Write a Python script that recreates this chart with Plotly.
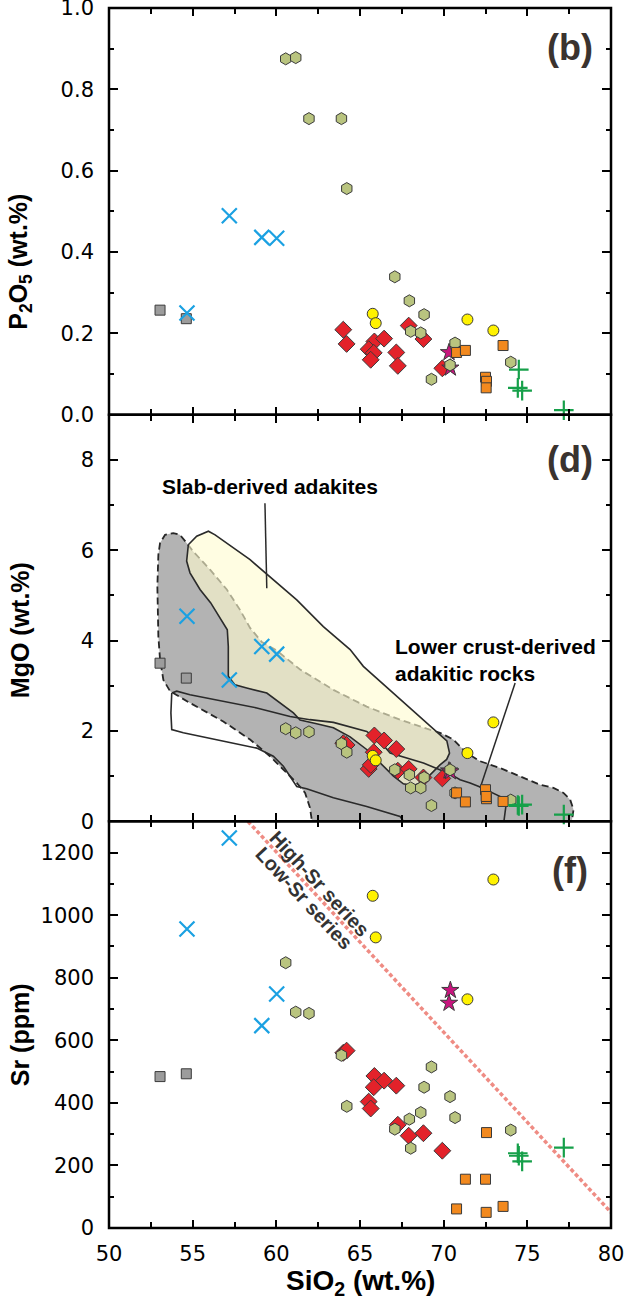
import plotly.graph_objects as go
from plotly.subplots import make_subplots

# ---------------- data ----------------
GRAY_SIO2 = [53.05, 54.62]
GRAY_P2O5 = [0.257, 0.236]
GRAY_MGO = [3.50, 3.17]
GRAY_SR = [484, 493]

BLUE_SIO2 = [54.66, 57.19, 59.13, 60.02]
BLUE_P2O5 = [0.250, 0.489, 0.436, 0.434]
BLUE_MGO = [4.54, 3.13, 3.87, 3.70]
BLUE_SR = [956, 1247, 647, 748]

HEX_SIO2 = [60.56, 61.16, 61.95, 63.89, 64.21, 67.08, 67.95, 68.83, 68.03, 68.63, 70.68, 70.38, 69.27, 74.01]
HEX_P2O5 = [0.875, 0.878, 0.728, 0.728, 0.556, 0.339, 0.280, 0.246, 0.205, 0.201, 0.176, 0.122, 0.087, 0.129]
HEX_MGO = [2.05, 1.96, 1.98, 1.72, 1.53, 1.14, 1.03, 0.97, 0.74, 0.74, 0.63, 1.14, 0.35, 0.47]
HEX_SR = [848, 690, 686, 552, 389, 316, 348, 450, 255, 369, 353, 420, 515, 313]

DIA_SIO2 = [64.0, 64.2, 65.86, 65.52, 65.82, 65.64, 66.44, 67.17, 67.26, 67.91, 68.79, 69.92]
DIA_P2O5 = [0.209, 0.174, 0.180, 0.161, 0.152, 0.135, 0.187, 0.153, 0.120, 0.219, 0.186, 0.114]
DIA_MGO = [1.73, 1.69, 1.90, 1.16, 1.53, 1.25, 1.79, 1.60, 1.12, 1.16, 0.97, 0.95]
DIA_SR = [560, 567, 486, 404, 450, 382, 471, 455, 330, 295, 303, 247]

YEL_SIO2 = [65.76, 65.94, 71.42, 72.97]
YEL_P2O5 = [0.248, 0.225, 0.234, 0.207]
YEL_MGO = [1.45, 1.35, 1.51, 2.19]
YEL_SR = [1062, 929, 731, 1114]

STAR_SIO2 = [70.32, 70.40]
STAR_P2O5 = [0.153, 0.115]
STAR_MGO = [1.12, 1.10]
STAR_SR = [719, 760]

ORA_SIO2 = [70.77, 71.30, 73.55, 72.50, 72.56, 72.54]
ORA_P2O5 = [0.153, 0.158, 0.170, 0.092, 0.082, 0.066]
ORA_MGO = [0.63, 0.43, 0.44, 0.70, 0.50, 0.55]
ORA_SR = [61, 156, 69, 156, 305, 50]

PLUS_SIO2 = [74.49, 74.43, 74.69, 77.18]
PLUS_P2O5 = [0.111, 0.066, 0.059, 0.011]
PLUS_MGO = [0.34, 0.36, 0.37, 0.15]
PLUS_SR = [231, 239, 213, 257]

# field boundaries (SiO2, MgO)
LC_FIELD_SIO2 = [62.13, 77.66, 77.76, 77.56, 77.16, 76.56, 75.76, 74.57, 73.37, 72.18, 71.38, 70.58,
                 69.78, 68.99, 67.39, 65.40, 63.41, 61.42, 60.02, 59.13, 58.43, 57.83, 57.04, 56.04,
                 55.04, 54.64, 54.24, 53.84, 53.35, 53.05, 52.95, 52.89, 52.95, 53.05, 53.25, 53.65,
                 54.84, 56.83, 58.43, 59.62, 60.42, 61.22, 61.72, 62.01, 62.13]
LC_FIELD_MGO = [0.0, 0.0, 0.26, 0.48, 0.63, 0.74, 0.81, 1.00, 1.18, 1.33, 1.51, 1.81,
                1.96, 2.05, 2.25, 2.54, 2.91, 3.36, 3.78, 3.97, 4.28, 4.68, 5.13, 5.57,
                5.97, 6.16, 6.34, 6.38, 6.34, 6.16, 5.90, 5.20, 4.09, 3.58, 3.13, 2.88,
                2.62, 2.21, 1.81, 1.44, 1.14, 0.85, 0.63, 0.30, 0.0]

SLAB_FIELD_SIO2 = [54.74, 55.24, 55.94, 56.34, 58.43, 61.22, 62.81, 64.41, 65.20, 67.20, 69.19, 70.19,
                   70.35, 70.18, 69.78, 69.39, 68.79, 68.19, 67.59, 67.00, 66.20, 65.40, 64.41, 63.41,
                   62.41, 61.42, 61.02, 60.22, 59.43, 58.23, 57.53, 57.13, 57.13, 57.07, 56.57, 56.07,
                   55.44, 54.84, 54.64, 54.74]
SLAB_FIELD_MGO = [6.12, 6.31, 6.42, 6.34, 5.79, 4.90, 4.31, 3.80, 3.43, 2.77, 2.10, 1.78,
                  1.51, 1.37, 1.25, 1.11, 0.88, 0.79, 0.83, 1.00, 1.29, 1.59, 1.87, 2.07,
                  2.16, 2.24, 2.40, 2.62, 2.84, 2.95, 3.02, 3.21, 3.87, 4.24, 4.54, 4.84,
                  5.13, 5.50, 5.76, 6.12]

OUT_FIELD_SIO2 = [53.75, 54.05, 54.84, 56.83, 58.83, 60.82, 62.01, 63.41, 65.40, 66.20, 66.80, 68.79,
                  70.38, 70.98, 71.58, 72.18, 72.77, 73.37, 73.77, 73.60, 67.60, 67.39, 65.40, 63.41,
                  61.81, 61.22, 60.82, 60.42, 59.82, 58.83, 57.43, 55.84, 54.44, 53.75, 53.70, 53.75]
OUT_FIELD_MGO = [2.84, 2.88, 2.80, 2.65, 2.51, 2.32, 2.25, 2.19, 1.99, 1.77, 1.51, 1.29,
                 1.05, 0.92, 0.85, 0.76, 0.66, 0.55, 0.48, 0.0, 0.0, 0.11, 0.33, 0.52,
                 0.72, 0.77, 1.00, 1.22, 1.44, 1.62, 1.73, 1.85, 1.96, 2.03, 2.40, 2.84]

SLAB_PTR_SIO2 = [59.32, 59.43]
SLAB_PTR_MGO = [7.04, 5.16]
LC_PTR_SIO2 = [74.27, 72.18]
LC_PTR_MGO = [3.06, 0.74]

SR_LINE_SIO2 = [58.3, 80.0]
SR_LINE_SR = [1300, 50]

X_RANGE = [50, 80]
X_TICKS = [50, 55, 60, 65, 70, 75, 80]
P2O5_RANGE = [0, 1.0]
MGO_RANGE = [0, 9]
SR_RANGE = [0, 1300]
P2O5_TICKS = [0.0, 0.2, 0.4, 0.6, 0.8, 1.0]
P2O5_TICKTEXT = ["0.0", "0.2", "0.4", "0.6", "0.8", "1.0"]

# ---------------- figure ----------------
fig = make_subplots(rows=3, cols=1, shared_xaxes=True, vertical_spacing=0)

OUTL = dict(color="#3a3a3a", width=1)

fig.add_trace(go.Scatter(x=LC_FIELD_SIO2, y=LC_FIELD_MGO, mode="lines", fill="toself",
                         fillcolor="#b3b3b3", line=dict(color="#262626", width=1.8, dash="7px,4px"),
                         hoverinfo="skip", showlegend=False), row=2, col=1)
fig.add_trace(go.Scatter(x=SLAB_FIELD_SIO2, y=SLAB_FIELD_MGO, mode="lines", fill="toself",
                         fillcolor="rgba(255,251,208,0.62)", line=dict(color="#2a2a2a", width=1.6),
                         hoverinfo="skip", showlegend=False), row=2, col=1)
fig.add_trace(go.Scatter(x=OUT_FIELD_SIO2, y=OUT_FIELD_MGO, mode="lines",
                         line=dict(color="#2a2a2a", width=1.6),
                         hoverinfo="skip", showlegend=False), row=2, col=1)
fig.add_trace(go.Scatter(x=SLAB_PTR_SIO2, y=SLAB_PTR_MGO, mode="lines",
                         line=dict(color="#2a2a2a", width=1.5), hoverinfo="skip", showlegend=False), row=2, col=1)
fig.add_trace(go.Scatter(x=LC_PTR_SIO2, y=LC_PTR_MGO, mode="lines",
                         line=dict(color="#2a2a2a", width=1.5), hoverinfo="skip", showlegend=False), row=2, col=1)

fig.add_trace(go.Scatter(x=SR_LINE_SIO2, y=SR_LINE_SR, mode="lines",
                         line=dict(color="#ef8c84", width=3.5, dash="4px,2.5px"),
                         hoverinfo="skip", showlegend=False), row=3, col=1)

groups = [
    (GRAY_SIO2, [GRAY_P2O5, GRAY_MGO, GRAY_SR], dict(symbol="square", size=10, color="#9c9c9c", line=OUTL)),
    (BLUE_SIO2, [BLUE_P2O5, BLUE_MGO, BLUE_SR], dict(symbol="x-thin", size=15, color="#1ba1e2",
                                                     line=dict(color="#1ba1e2", width=2.2))),
    (DIA_SIO2, [DIA_P2O5, DIA_MGO, DIA_SR], dict(symbol="diamond", size=13, color="#e3222a", line=OUTL)),
    (STAR_SIO2, [STAR_P2O5, STAR_MGO, STAR_SR], dict(symbol="star", size=13, color="#c8157e", line=OUTL)),
    (HEX_SIO2, [HEX_P2O5, HEX_MGO, HEX_SR], dict(symbol="hexagon", size=12, color="#b9c47f", line=OUTL)),
    (ORA_SIO2, [ORA_P2O5, ORA_MGO, ORA_SR], dict(symbol="square", size=10, color="#f2891e", line=OUTL)),
    (YEL_SIO2, [YEL_P2O5, YEL_MGO, YEL_SR], dict(symbol="circle", size=11, color="#fff200", line=OUTL)),
    (PLUS_SIO2, [PLUS_P2O5, PLUS_MGO, PLUS_SR], dict(symbol="cross-thin", size=14, color="#16a04a",
                                                     line=dict(color="#16a04a", width=2.2))),
]
for xs, ys_list, mk in groups:
    for r, ys in enumerate(ys_list, start=1):
        fig.add_trace(go.Scatter(x=xs, y=ys, mode="markers", marker=mk, cliponaxis=False,
                                 hoverinfo="skip", showlegend=False), row=r, col=1)

TICKFONT = dict(family="DejaVu Sans", size=21, color="black")
fig.update_xaxes(range=X_RANGE, tickmode="array", tickvals=X_TICKS, ticks="inside", ticklen=8, tickwidth=1.5,
                 tickcolor="black", showline=False, mirror="ticks", ticklabeloverflow="allow",
                 automargin=False,
                 minor=dict(dtick=2.5, tick0=50, ticks="inside", ticklen=6, tickwidth=1.5, tickcolor="black"),
                 showgrid=False, zeroline=False, tickfont=TICKFONT, ticklabelstandoff=11)
common_y = dict(ticks="inside", ticklen=9, tickwidth=1.5, tickcolor="black", showline=False,
                mirror="ticks", showgrid=False, zeroline=False, ticklabeloverflow="allow",
                automargin=False, tickfont=TICKFONT, ticklabelstandoff=14)
fig.update_yaxes(range=P2O5_RANGE, tickmode="array", tickvals=P2O5_TICKS, ticktext=P2O5_TICKTEXT,
                 minor=dict(dtick=0.1, ticks="inside", ticklen=5, tickwidth=1.5, tickcolor="black"),
                 row=1, col=1, **common_y)
fig.update_yaxes(range=MGO_RANGE, dtick=2,
                 minor=dict(dtick=1, ticks="inside", ticklen=5, tickwidth=1.5, tickcolor="black"),
                 row=2, col=1, **common_y)
fig.update_yaxes(range=SR_RANGE, dtick=200,
                 minor=dict(dtick=100, ticks="inside", ticklen=5, tickwidth=1.5, tickcolor="black"),
                 row=3, col=1, **common_y)

shapes = []
for xr, yr in [("x domain", "y domain"), ("x2 domain", "y2 domain"), ("x3 domain", "y3 domain")]:
    shapes.append(dict(type="rect", xref=xr, yref=yr, x0=0, x1=1, y0=0, y1=1,
                       line=dict(color="black", width=2.5), layer="above"))

TITLE_FONT = dict(family="Liberation Sans Narrow, Liberation Sans", size=25, color="black", weight="bold")
ann = []
for txt, ypos in [("P<sub>2</sub>O<sub>5</sub> (wt.%)", 0.792), ("MgO (wt.%)", 0.49), ("Sr (ppm)", 0.158)]:
    ann.append(dict(text=txt, xref="paper", yref="paper", x=0, y=ypos, xshift=-89, textangle=-90,
                    showarrow=False, xanchor="center", yanchor="middle", font=TITLE_FONT))
ann.append(dict(text="SiO<sub>2</sub> (wt.%)", xref="paper", yref="paper", x=0.5, y=-0.045,
                showarrow=False, xanchor="center", yanchor="middle",
                font=dict(family="Liberation Sans", size=28, color="black", weight="bold")))

PANEL_FONT = dict(family="Liberation Sans", size=36, color="#3a332f", weight="bold")
ann.append(dict(text="(b)", xref="x", yref="y", x=77.55, y=0.902, showarrow=False, font=PANEL_FONT))
ann.append(dict(text="(d)", xref="x2", yref="y2", x=77.55, y=8.0, showarrow=False, font=PANEL_FONT))
ann.append(dict(text="(f)", xref="x3", yref="y3", x=77.55, y=1144, showarrow=False, font=PANEL_FONT))

LBL_FONT = dict(family="Liberation Sans", size=21, color="black", weight="bold")
ann.append(dict(text="Slab-derived adakites", xref="x2", yref="y2", x=59.62, y=7.41,
                showarrow=False, font=LBL_FONT))
ann.append(dict(text="Lower crust-derived<br>adakitic rocks", xref="x2", yref="y2", x=66.99, y=3.56,
                showarrow=False, xanchor="left", yanchor="middle", align="left", font=LBL_FONT))

SR_FONT = dict(family="Liberation Sans", size=20, color="#333333", weight="bold")
ann.append(dict(text="High-Sr series", xref="x3", yref="y3", x=62.61, y=1101, textangle=47,
                showarrow=False, font=SR_FONT))
ann.append(dict(text="Low-Sr series", xref="x3", yref="y3", x=61.66, y=1056, textangle=47,
                showarrow=False, font=SR_FONT))

fig.update_layout(width=624, height=1301, margin=dict(l=109, r=13, t=8, b=73),
                  plot_bgcolor="white", paper_bgcolor="white", annotations=ann, shapes=shapes,
                  font=dict(family="Liberation Sans"))

fig.write_html("out.html")
